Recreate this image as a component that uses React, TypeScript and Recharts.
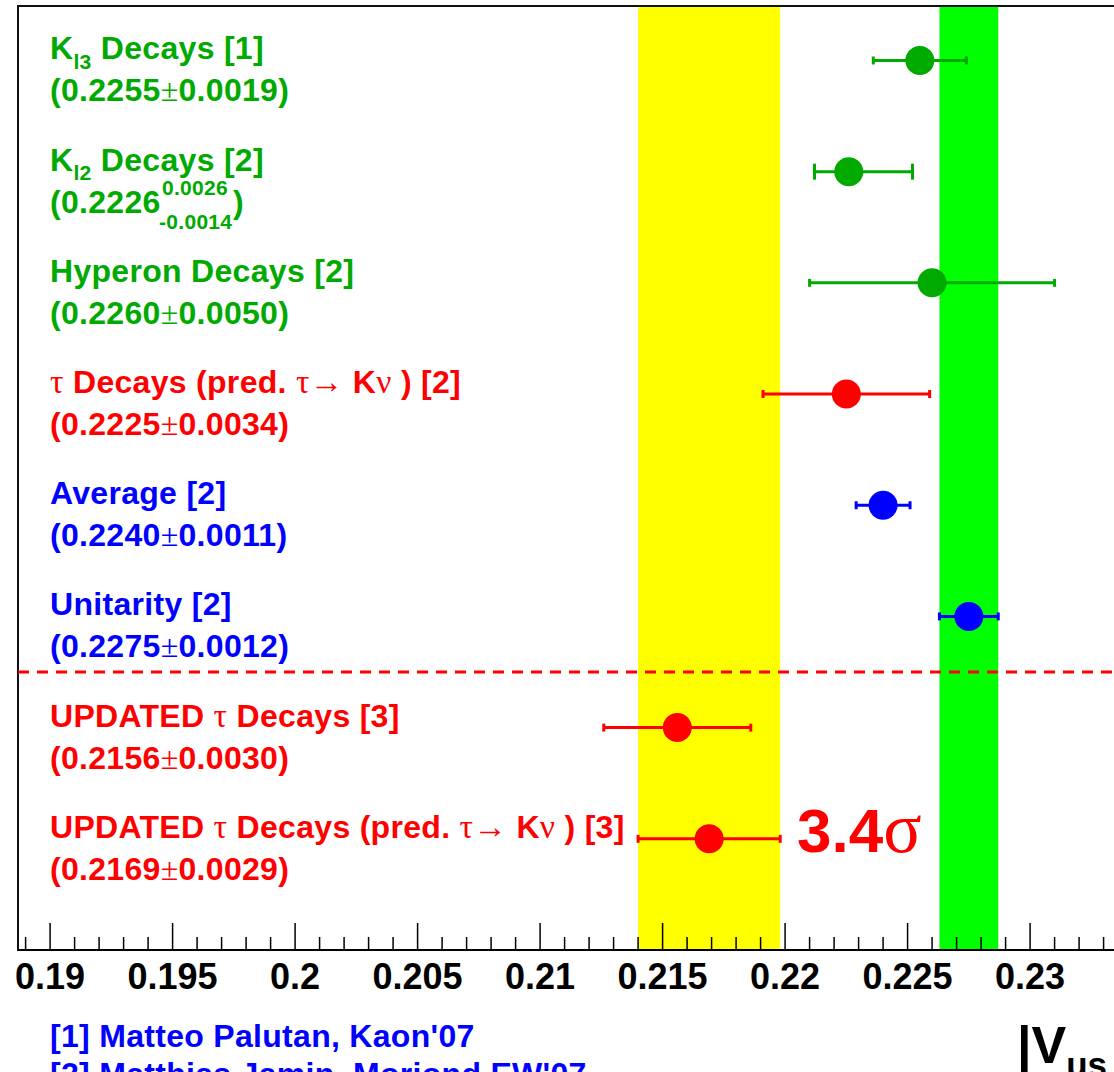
import React from 'react';
import {
  ErrorBar,
  ReferenceArea,
  ReferenceLine,
  Scatter,
  ScatterChart,
  XAxis,
  YAxis,
} from 'recharts';

// |Vus| determinations, top row first
const titles = [
  'K_{l3} Decays [1]',
  'K_{l2} Decays [2]',
  'Hyperon Decays [2]',
  'τ Decays (pred. τ→ Kν ) [2]',
  'Average [2]',
  'Unitarity [2]',
  'UPDATED τ Decays [3]',
  'UPDATED τ Decays (pred. τ→ Kν ) [3]',
];
const vus = [0.2255, 0.2226, 0.226, 0.2225, 0.224, 0.2275, 0.2156, 0.2169];
const errLow = [0.0019, 0.0014, 0.005, 0.0034, 0.0011, 0.0012, 0.003, 0.0029];
const errHigh = [0.0019, 0.0026, 0.005, 0.0034, 0.0011, 0.0012, 0.003, 0.0029];
const groups = ['kaon', 'kaon', 'kaon', 'tau', 'avg', 'avg', 'tau', 'tau'];

const majorTickLabels = ['0.19', '0.195', '0.2', '0.205', '0.21', '0.215', '0.22', '0.225', '0.23'];
const references = ["[1] Matteo Palutan, Kaon'07", "[2] Matthias Jamin, Moriond EW'07"];
const tension = '3.4σ';

const colors: Record<string, string> = { kaon: '#00aa00', tau: '#ff0000', avg: '#0000ff' };
const SANS = '"Liberation Sans", Arial, Helvetica, sans-serif';
const SERIF = '"Liberation Serif", "DejaVu Serif", serif';

const X_MIN = 0.18869;
const X_MAX = 0.23367;
const Y_MAX = 8.49;

const rows = vus.map((v, i) => ({
  x: v,
  y: titles.length - i,
  err: [errLow[i], errHigh[i]],
  title: titles[i],
  lo: errLow[i],
  hi: errHigh[i],
  color: colors[groups[i]],
}));

// minor ticks every 0.001, majors every 0.005
const axisTicks: number[] = [];
for (let k = 189; k <= 233; k++) axisTicks.push(k / 1000);

// bands: updated tau average (yellow) and unitarity (green)
const tauRow = rows[7];
const unitRow = rows[5];
const separatorY = (rows[5].y + rows[6].y) / 2;

// tiny TLatex-like renderer: _{..} for subscripts, greek/symbols in serif
function richText(str: string, size: number, symScale = 1) {
  const out: React.ReactNode[] = [];
  const pieces = str.split(/(_\{[^}]*\})/);
  let key = 0;
  let shifted = false;
  pieces.forEach((p) => {
    if (!p) return;
    if (p.startsWith('_{')) {
      out.push(
        <tspan key={key++} fontSize={size * 0.66} dy={size * 0.3}>
          {p.slice(2, -1)}
        </tspan>,
      );
      shifted = true;
      return;
    }
    p.split(/([τνσ±→])/).forEach((s, j) => {
      if (!s) return;
      const sym = /^[τνσ±→]$/.test(s);
      out.push(
        <tspan
          key={key++}
          dy={shifted && j === 0 ? -size * 0.3 : undefined}
          fontFamily={sym ? SERIF : undefined}
          fontWeight={sym ? 'normal' : undefined}
          fontSize={sym && symScale !== 1 ? size * symScale : undefined}
        >
          {s}
        </tspan>,
      );
      shifted = false;
    });
  });
  return out;
}

const ROW_FONT = 32;
const ROW_SPACING = 0.3;

function RowMarker(props: any) {
  const { cx, cy, payload } = props;
  const sym = payload.lo === payload.hi;
  const textProps = {
    fill: payload.color,
    fontFamily: SANS,
    fontWeight: 'bold',
    fontSize: ROW_FONT,
    letterSpacing: ROW_SPACING,
  };
  return (
    <g>
      <circle cx={cx} cy={cy} r={14.5} fill={payload.color} />
      <text x={50} y={cy - 1} {...textProps}>
        {richText(payload.title, ROW_FONT, 1.05)}
      </text>
      {sym ? (
        <text x={50} y={cy + 41} {...textProps}>
          {richText(`(${payload.x.toFixed(4)}±${payload.lo.toFixed(4)})`, ROW_FONT)}
        </text>
      ) : (
        <text x={50} y={cy + 41} {...textProps}>
          {`(${payload.x.toFixed(4)}`}
          <tspan x={162} dy={-18} fontSize={21}>{payload.hi.toFixed(4)}</tspan>
          <tspan x={159} dy={34} fontSize={21}>{`-${payload.lo.toFixed(4)}`}</tspan>
          <tspan x={233} dy={-16}>)</tspan>
        </text>
      )}
    </g>
  );
}

function AxisTick(props: any) {
  const { x, y, payload } = props;
  const k = Math.round(payload.value * 1000);
  const major = k % 5 === 0;
  return (
    <g>
      <line x1={x} x2={x} y1={y} y2={y - (major ? 27 : 13)} stroke="#000" strokeWidth={1.5} />
      {major && (
        <text x={x} y={y + 39} textAnchor="middle" fontFamily={SANS} fontWeight="bold" fontSize={36} fill="#000">
          {majorTickLabels[(k - 190) / 5]}
        </text>
      )}
    </g>
  );
}

export default function App() {
  return (
    <div style={{ position: 'absolute', left: 0, top: 0, width: 1114, height: 1072, overflow: 'hidden', background: '#fff' }}>
      <ScatterChart width={1130} height={1072} margin={{ top: 6, right: 10, left: 18, bottom: 62 }}>
        <XAxis
          type="number"
          dataKey="x"
          domain={[X_MIN, X_MAX]}
          allowDataOverflow
          ticks={axisTicks}
          interval={0}
          tickLine={false}
          tickSize={0}
          tickMargin={0}
          height={60}
          axisLine={{ stroke: '#000', strokeWidth: 2 }}
          tick={<AxisTick />}
        />
        <YAxis type="number" dataKey="y" domain={[0, Y_MAX]} hide width={0} />
        <ReferenceArea
          x1={tauRow.x - tauRow.lo}
          x2={tauRow.x + tauRow.hi}
          fill="#ffff00"
          fillOpacity={1}
          stroke="none"
        />
        <ReferenceArea
          x1={unitRow.x - unitRow.lo}
          x2={unitRow.x + unitRow.hi}
          fill="#00ff00"
          fillOpacity={1}
          stroke="none"
        />
        <ReferenceArea
          x1={X_MIN}
          x2={X_MAX}
          y1={0}
          y2={Y_MAX}
          fill="none"
          stroke="#111"
          strokeWidth={2}
        />
        <ReferenceLine y={separatorY} stroke="#ff0000" strokeWidth={3} strokeDasharray="11 8" />
        {rows.map((r, i) => (
          <Scatter key={i} data={[r]} isAnimationActive={false} shape={<RowMarker />}>
            <ErrorBar
              dataKey="err"
              direction="x"
              width={r.lo === r.hi ? 4 : 8}
              stroke={r.color}
              strokeWidth={3}
              isAnimationActive={false}
            />
          </Scatter>
        ))}
        <text x={797} y={852} fill="#ff0000" fontFamily={SANS} fontWeight="bold" fontSize={62}>
          {richText(tension, 62, 1.15)}
        </text>
        {references.map((ref, i) => (
          <text
            key={ref}
            x={50}
            y={1047 + i * 38}
            fill="#0000ff"
            fontFamily={SANS}
            fontWeight="bold"
            fontSize={32}
            letterSpacing={0.3}
          >
            {ref}
          </text>
        ))}
        <text x={1017} y={1063} fill="#000" fontFamily={SANS} fontWeight="bold" fontSize={52}>
          |V
          <tspan fontSize={35} dy={14}>us</tspan>
          <tspan dx={4} dy={-14}>|</tspan>
        </text>
      </ScatterChart>
    </div>
  );
}
